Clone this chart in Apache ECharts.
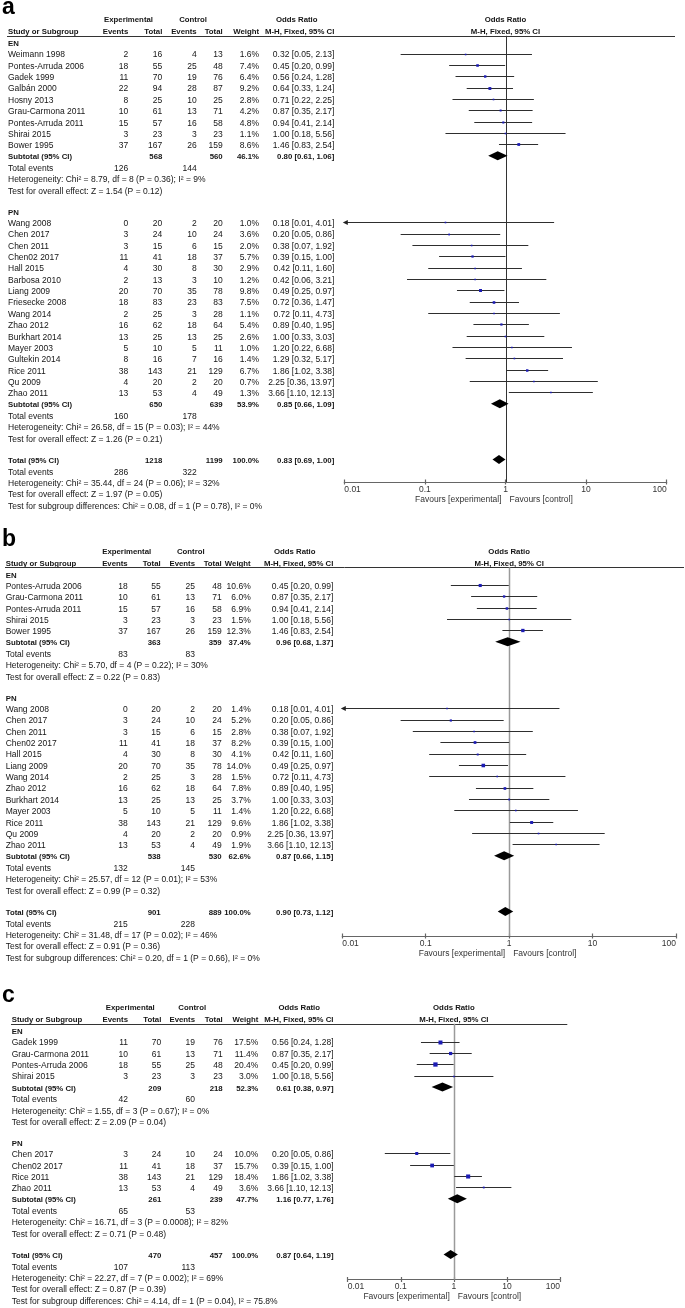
<!DOCTYPE html>
<html><head><meta charset="utf-8">
<style>html,body{margin:0;padding:0;background:#fff}#c{width:685px;height:1308px}</style>
<script src="https://cdn.jsdelivr.net/npm/echarts/dist/echarts.min.js"></script>
</head><body><div id="c"></div>
<script>
// ---------- DATA ----------
// study rows: [name, expEvents, expTotal, ctlEvents, ctlTotal, weight%, OR, lower, upper]
// subtotal rows: [expTotal, ctlTotal, weight%, OR, lower, upper, expEvents, ctlEvents]
const aEN = [
 ['Weimann 1998',2,16,4,13,1.6,0.32,0.05,2.13],
 ['Pontes-Arruda 2006',18,55,25,48,7.4,0.45,0.20,0.99],
 ['Gadek 1999',11,70,19,76,6.4,0.56,0.24,1.28],
 ['Galbán 2000',22,94,28,87,9.2,0.64,0.33,1.24],
 ['Hosny 2013',8,25,10,25,2.8,0.71,0.22,2.25],
 ['Grau-Carmona 2011',10,61,13,71,4.2,0.87,0.35,2.17],
 ['Pontes-Arruda 2011',15,57,16,58,4.8,0.94,0.41,2.14],
 ['Shirai 2015',3,23,3,23,1.1,1.00,0.18,5.56],
 ['Bower 1995',37,167,26,159,8.6,1.46,0.83,2.54]
];
const aENSub = [568,560,46.1,0.80,0.61,1.06,126,144];
const aENStats = ['Heterogeneity: Chi² = 8.79, df = 8 (P = 0.36); I² = 9%','Test for overall effect: Z = 1.54 (P = 0.12)'];
const aPN = [
 ['Wang 2008',0,20,2,20,1.0,0.18,0.01,4.01],
 ['Chen 2017',3,24,10,24,3.6,0.20,0.05,0.86],
 ['Chen 2011',3,15,6,15,2.0,0.38,0.07,1.92],
 ['Chen02 2017',11,41,18,37,5.7,0.39,0.15,1.00],
 ['Hall 2015',4,30,8,30,2.9,0.42,0.11,1.60],
 ['Barbosa 2010',2,13,3,10,1.2,0.42,0.06,3.21],
 ['Liang 2009',20,70,35,78,9.8,0.49,0.25,0.97],
 ['Friesecke 2008',18,83,23,83,7.5,0.72,0.36,1.47],
 ['Wang 2014',2,25,3,28,1.1,0.72,0.11,4.73],
 ['Zhao 2012',16,62,18,64,5.4,0.89,0.40,1.95],
 ['Burkhart 2014',13,25,13,25,2.6,1.00,0.33,3.03],
 ['Mayer 2003',5,10,5,11,1.0,1.20,0.22,6.68],
 ['Gultekin 2014',8,16,7,16,1.4,1.29,0.32,5.17],
 ['Rice 2011',38,143,21,129,6.7,1.86,1.02,3.38],
 ['Qu 2009',4,20,2,20,0.7,2.25,0.36,13.97],
 ['Zhao 2011',13,53,4,49,1.3,3.66,1.10,12.13]
];
const aPNSub = [650,639,53.9,0.85,0.66,1.09,160,178];
const aPNStats = ['Heterogeneity: Chi² = 26.58, df = 15 (P = 0.03); I² = 44%','Test for overall effect: Z = 1.26 (P = 0.21)'];
const aTotal = [1218,1199,100.0,0.83,0.69,1.00,286,322];
const aTotalStats = ['Heterogeneity: Chi² = 35.44, df = 24 (P = 0.06); I² = 32%','Test for overall effect: Z = 1.97 (P = 0.05)','Test for subgroup differences: Chi² = 0.08, df = 1 (P = 0.78), I² = 0%'];

const bEN = [
 ['Pontes-Arruda 2006',18,55,25,48,10.6,0.45,0.20,0.99],
 ['Grau-Carmona 2011',10,61,13,71,6.0,0.87,0.35,2.17],
 ['Pontes-Arruda 2011',15,57,16,58,6.9,0.94,0.41,2.14],
 ['Shirai 2015',3,23,3,23,1.5,1.00,0.18,5.56],
 ['Bower 1995',37,167,26,159,12.3,1.46,0.83,2.54]
];
const bENSub = [363,359,37.4,0.96,0.68,1.37,83,83];
const bENStats = ['Heterogeneity: Chi² = 5.70, df = 4 (P = 0.22); I² = 30%','Test for overall effect: Z = 0.22 (P = 0.83)'];
const bPN = [
 ['Wang 2008',0,20,2,20,1.4,0.18,0.01,4.01],
 ['Chen 2017',3,24,10,24,5.2,0.20,0.05,0.86],
 ['Chen 2011',3,15,6,15,2.8,0.38,0.07,1.92],
 ['Chen02 2017',11,41,18,37,8.2,0.39,0.15,1.00],
 ['Hall 2015',4,30,8,30,4.1,0.42,0.11,1.60],
 ['Liang 2009',20,70,35,78,14.0,0.49,0.25,0.97],
 ['Wang 2014',2,25,3,28,1.5,0.72,0.11,4.73],
 ['Zhao 2012',16,62,18,64,7.8,0.89,0.40,1.95],
 ['Burkhart 2014',13,25,13,25,3.7,1.00,0.33,3.03],
 ['Mayer 2003',5,10,5,11,1.4,1.20,0.22,6.68],
 ['Rice 2011',38,143,21,129,9.6,1.86,1.02,3.38],
 ['Qu 2009',4,20,2,20,0.9,2.25,0.36,13.97],
 ['Zhao 2011',13,53,4,49,1.9,3.66,1.10,12.13]
];
const bPNSub = [538,530,62.6,0.87,0.66,1.15,132,145];
const bPNStats = ['Heterogeneity: Chi² = 25.57, df = 12 (P = 0.01); I² = 53%','Test for overall effect: Z = 0.99 (P = 0.32)'];
const bTotal = [901,889,100.0,0.90,0.73,1.12,215,228];
const bTotalStats = ['Heterogeneity: Chi² = 31.48, df = 17 (P = 0.02); I² = 46%','Test for overall effect: Z = 0.91 (P = 0.36)','Test for subgroup differences: Chi² = 0.20, df = 1 (P = 0.66), I² = 0%'];

const cEN = [
 ['Gadek 1999',11,70,19,76,17.5,0.56,0.24,1.28],
 ['Grau-Carmona 2011',10,61,13,71,11.4,0.87,0.35,2.17],
 ['Pontes-Arruda 2006',18,55,25,48,20.4,0.45,0.20,0.99],
 ['Shirai 2015',3,23,3,23,3.0,1.00,0.18,5.56]
];
const cENSub = [209,218,52.3,0.61,0.38,0.97,42,60];
const cENStats = ['Heterogeneity: Chi² = 1.55, df = 3 (P = 0.67); I² = 0%','Test for overall effect: Z = 2.09 (P = 0.04)'];
const cPN = [
 ['Chen 2017',3,24,10,24,10.0,0.20,0.05,0.86],
 ['Chen02 2017',11,41,18,37,15.7,0.39,0.15,1.00],
 ['Rice 2011',38,143,21,129,18.4,1.86,1.02,3.38],
 ['Zhao 2011',13,53,4,49,3.6,3.66,1.10,12.13]
];
const cPNSub = [261,239,47.7,1.16,0.77,1.76,65,53];
const cPNStats = ['Heterogeneity: Chi² = 16.71, df = 3 (P = 0.0008); I² = 82%','Test for overall effect: Z = 0.71 (P = 0.48)'];
const cTotal = [470,457,100.0,0.87,0.64,1.19,107,113];
const cTotalStats = ['Heterogeneity: Chi² = 22.27, df = 7 (P = 0.002); I² = 69%','Test for overall effect: Z = 0.87 (P = 0.39)','Test for subgroup differences: Chi² = 4.14, df = 1 (P = 0.04), I² = 75.8%'];

const TICK_VALUES = [0.01, 0.1, 1, 10, 100];
const TICK_LABELS = ['0.01', '0.1', '1', '10', '100'];
const HEAD = ['Experimental','Control','Odds Ratio','Study or Subgroup','Events','Total','Events','Total','Weight','M-H, Fixed, 95% CI'];
const FAVOURS = ['Favours [experimental]','Favours [control]'];

// ---------- LAYOUT / STYLE ----------
const FONT = '"Liberation Sans", Arial, sans-serif';
const FS = 8.5, FSB = 7.8;
const TXT = '#151515';
const ROW = 11.35, FIRST = 10.8, GAP = 21.6, MARK_DY = -1.5;

const PANELS = [
 {label:'a', sections:[{name:'EN',studies:aEN,sub:aENSub,stats:aENStats},{name:'PN',studies:aPN,sub:aPNSub,stats:aPNStats}], total:aTotal, totalStats:aTotalStats,
  enY:44.3, axisY:482, plotL:344.3, plotR:666.7, ulL:7, ulR:675,
  cols:{name:8, evE:128.3, totE:162.3, evC:196.7, totC:222.7, w:259, or:334.3}, hdr:{exp:128.5, ctl:193, or:296.7},
  ref:'#333333', refW:1},
 {label:'b', sections:[{name:'EN',studies:bEN,sub:bENSub,stats:bENStats},{name:'PN',studies:bPN,sub:bPNSub,stats:bPNStats}], total:bTotal, totalStats:bTotalStats,
  enY:575.7, axisY:936, plotL:342.3, plotR:676, ulL:5, ulR:684,
  cols:{name:5.7, evE:127.7, totE:160.7, evC:195, totC:221.7, w:250.7, or:333.3}, hdr:{exp:126.7, ctl:190.8, or:294.7},
  ref:'#9a9a9a', refW:1.5},
 {label:'c', sections:[{name:'EN',studies:cEN,sub:cENSub,stats:cENStats},{name:'PN',studies:cPN,sub:cPNSub,stats:cPNStats}], total:cTotal, totalStats:cTotalStats,
  enY:1032.3, axisY:1279.5, plotL:347.7, plotR:560, ulL:11, ulR:567.3,
  cols:{name:11.7, evE:128, totE:161.3, evC:195, totC:222.7, w:258.3, or:333.5}, hdr:{exp:130.3, ctl:192.2, or:299.2},
  ref:'#9a9a9a', refW:1.5}
];

function buildRows(P) {
  const rows = []; let y = P.enY;
  P.sections.forEach((s, si) => {
    if (si > 0) y += GAP - ROW;
    rows.push({k:'group', y, text:s.name}); y += FIRST;
    s.studies.forEach(st => { rows.push({k:'study', y, st}); y += ROW; });
    rows.push({k:'sub', y, d:s.sub, label:'Subtotal (95% CI)'}); y += ROW;
    rows.push({k:'events', y, d:s.sub}); y += ROW;
    s.stats.forEach(tx => { rows.push({k:'text', y, text:tx}); y += ROW; });
  });
  y += GAP - ROW;
  rows.push({k:'sub', y, d:P.total, label:'Total (95% CI)'}); y += ROW;
  rows.push({k:'events', y, d:P.total}); y += ROW;
  P.totalStats.forEach(tx => { rows.push({k:'text', y, text:tx}); y += ROW; });
  return rows;
}
const f2 = v => v.toFixed(2);
const orText = (o, l, h) => `${f2(o)} [${f2(l)}, ${f2(h)}]`;

// table items (text + rules), positioned through the table grid's axes
const tableItems = [];
PANELS.forEach(P => {
  const c = P.cols, T = (x, y, text, align, bold) => tableItems.push({t:'text', x, y, text, align, bold});
  P.ulY = P.enY - 8.5;
  P.rows = buildRows(P);
  T(2, P.enY - 36.3, P.label, 'left', 'big');
  const h1 = P.enY - 24, h2 = P.enY - 12;
  T(P.hdr.exp, h1, HEAD[0], 'center', true);
  T(P.hdr.ctl, h1, HEAD[1], 'center', true);
  T(P.hdr.or, h1, HEAD[2], 'center', true);
  T(c.name, h2, HEAD[3], 'left', true);
  T(c.evE, h2, HEAD[4], 'right', true);
  T(c.totE, h2, HEAD[5], 'right', true);
  T(c.evC, h2, HEAD[6], 'right', true);
  T(c.totC, h2, HEAD[7], 'right', true);
  T(c.w, h2, HEAD[8], 'right', true);
  T(c.or, h2, HEAD[9], 'right', true);
  tableItems.push({t:'line', x:P.ulL, x2:P.ulR, y:P.ulY});
  P.rows.forEach(r => {
    const y = r.y;
    if (r.k === 'group') T(c.name, y, r.text, 'left', true);
    else if (r.k === 'study') {
      const s = r.st;
      T(c.name, y, s[0], 'left', false);
      T(c.evE, y, String(s[1]), 'right', false);
      T(c.totE, y, String(s[2]), 'right', false);
      T(c.evC, y, String(s[3]), 'right', false);
      T(c.totC, y, String(s[4]), 'right', false);
      T(c.w, y, s[5].toFixed(1) + '%', 'right', false);
      T(c.or, y, orText(s[6], s[7], s[8]), 'right', false);
    } else if (r.k === 'sub') {
      const d = r.d;
      T(c.name, y, r.label, 'left', true);
      T(c.totE, y, String(d[0]), 'right', true);
      T(c.totC, y, String(d[1]), 'right', true);
      T(c.w, y, d[2].toFixed(1) + '%', 'right', true);
      T(c.or, y, orText(d[3], d[4], d[5]), 'right', true);
    } else if (r.k === 'events') {
      T(c.name, y, 'Total events', 'left', false);
      T(c.evE, y, String(r.d[6]), 'right', false);
      T(c.evC, y, String(r.d[7]), 'right', false);
    } else if (r.k === 'text') T(c.name, y, r.text, 'left', false);
  });
});

function tickLabel(v) {
  let best = 0;
  TICK_VALUES.forEach((t, i) => { if (Math.abs(Math.log10(v) - Math.log10(t)) < Math.abs(Math.log10(v) - Math.log10(TICK_VALUES[best]))) best = i; });
  return TICK_LABELS[best];
}

const grids = [{left:0, top:0, width:685, height:1308}];
const xAxes = [{gridIndex:0, type:'value', min:0, max:685, show:false}];
const yAxes = [{gridIndex:0, type:'value', min:0, max:1308, inverse:true, show:false}];
const series = [];

series.push({
  type:'custom', xAxisIndex:0, yAxisIndex:0, silent:true, animation:false, clip:false,
  data: tableItems.map(it => [it.x, it.y]),
  renderItem: (params, api) => {
    const it = tableItems[params.dataIndex];
    const p = api.coord([it.x, it.y]);
    if (it.t === 'line') {
      const p2 = api.coord([it.x2, it.y]); const yy = Math.round(p[1]) + 0.5;
      return {type:'line', shape:{x1:p[0], y1:yy, x2:p2[0], y2:yy}, style:{stroke:'#333', lineWidth:1}};
    }
    const font = it.bold === 'big' ? `bold 23px ${FONT}` : (it.bold ? `bold ${FSB}px ${FONT}` : `${FS}px ${FONT}`);
    return {type:'text', style:{x:p[0], y:p[1], text:it.text, font, fill: it.bold === 'big' ? '#000' : TXT, align:it.align, verticalAlign:'middle'}};
  }
});

PANELS.forEach((P, pi) => {
  const gi = pi + 1;
  grids.push({left:P.plotL, width:P.plotR - P.plotL, top:P.ulY, height:P.axisY - P.ulY});
  const axisCommon = {gridIndex:gi, type:'log', logBase:10, min:TICK_VALUES[0], max:TICK_VALUES[TICK_VALUES.length-1], position:'bottom', splitLine:{show:false}, minorTick:{show:false}, minorSplitLine:{show:false}};
  const xMain = xAxes.length;
  xAxes.push(Object.assign({}, axisCommon, {
    axisLine:{show:true, lineStyle:{color:'#666', width:1.2}},
    axisTick:{show:true, length:2.5, lineStyle:{color:'#666', width:1.2}},
    axisLabel:{show:true, margin:3, fontSize:FS, fontFamily:FONT, color:'#333', formatter:tickLabel, alignMinLabel:'left', alignMaxLabel:'right'}
  }));
  xAxes.push(Object.assign({}, axisCommon, {
    axisLine:{show:false}, axisLabel:{show:false},
    axisTick:{show:true, inside:true, length:2.5, lineStyle:{color:'#666', width:1.2}}
  }));
  const yi = yAxes.length;
  yAxes.push({gridIndex:gi, type:'value', min:P.ulY, max:P.axisY, inverse:true, show:false});

  const items = [{k:'ref', or:1, y:P.ulY}, {k:'hdr', or:1, y:P.ulY}, {k:'fav', or:1, y:P.axisY}];
  P.rows.forEach(r => {
    if (r.k === 'study') items.push({k:'study', or:r.st[6], lo:r.st[7], hi:r.st[8], w:r.st[5], y:r.y + MARK_DY});
    if (r.k === 'sub') items.push({k:'diamond', or:r.d[3], lo:r.d[4], hi:r.d[5], y:r.y + MARK_DY});
  });
  series.push({
    type:'custom', xAxisIndex:xMain, yAxisIndex:yi, silent:true, animation:false, clip:false,
    data: items.map(it => [it.or, it.y, it.lo || it.or, it.hi || it.or, it.w || 0]),
    renderItem: (params, api) => {
      const it = items[params.dataIndex];
      const y = api.value(1);
      const c = api.coord([api.value(0), y]);
      if (it.k === 'ref') {
        const b = api.coord([1, P.axisY]); const x = Math.round(c[0]) + 0.5;
        return {type:'line', shape:{x1:x, y1:c[1], x2:x, y2:b[1]}, style:{stroke:P.ref, lineWidth:P.refW}};
      }
      if (it.k === 'hdr') {
        return {type:'group', children:[
          {type:'text', style:{x:c[0], y:c[1] - 15.5, text:HEAD[2], font:`bold ${FSB}px ${FONT}`, fill:TXT, align:'center', verticalAlign:'middle'}},
          {type:'text', style:{x:c[0], y:c[1] - 3.5, text:HEAD[9], font:`bold ${FSB}px ${FONT}`, fill:TXT, align:'center', verticalAlign:'middle'}}
        ]};
      }
      if (it.k === 'fav') {
        return {type:'group', children:[
          {type:'text', style:{x:c[0] - 4, y:c[1] + 17.5, text:FAVOURS[0], font:`${FS}px ${FONT}`, fill:'#333', align:'right', verticalAlign:'middle'}},
          {type:'text', style:{x:c[0] + 4, y:c[1] + 17.5, text:FAVOURS[1], font:`${FS}px ${FONT}`, fill:'#333', align:'left', verticalAlign:'middle'}}
        ]};
      }
      const lo = api.value(2), hi = api.value(3);
      const minV = TICK_VALUES[0], maxV = TICK_VALUES[TICK_VALUES.length-1];
      const pl = api.coord([Math.max(lo, minV), y]), ph = api.coord([Math.min(hi, maxV), y]);
      if (it.k === 'diamond') {
        const h = 4.5;
        return {type:'polygon', shape:{points:[[pl[0], c[1]], [c[0], c[1] - h], [ph[0], c[1]], [c[0], c[1] + h]]}, style:{fill:'#000'}};
      }
      const yy = Math.round(c[1]) + 0.5;
      const side = Math.max(1.6, 0.95 * Math.sqrt(api.value(4)));
      const ch = [
        {type:'line', shape:{x1:pl[0], y1:yy, x2:ph[0], y2:yy}, style:{stroke:'#2e2e2e', lineWidth:1}},
        {type:'rect', shape:{x:c[0] - side/2, y:yy - side/2, width:side, height:side}, style:{fill:'#1c1cb4'}}
      ];
      if (lo <= minV) ch.push({type:'polygon', shape:{points:[[pl[0] - 1.5, yy], [pl[0] + 3.5, yy - 2.5], [pl[0] + 3.5, yy + 2.5]]}, style:{fill:'#222'}});
      if (hi >= maxV) ch.push({type:'polygon', shape:{points:[[ph[0] + 1.5, yy], [ph[0] - 3.5, yy - 2.5], [ph[0] - 3.5, yy + 2.5]]}, style:{fill:'#222'}});
      return {type:'group', children:ch};
    }
  });
});

const chart = echarts.init(document.getElementById('c'), null, {renderer:'canvas'});
chart.setOption({animation:false, backgroundColor:'#fff', grid:grids, xAxis:xAxes, yAxis:yAxes, series});
</script></body></html>
